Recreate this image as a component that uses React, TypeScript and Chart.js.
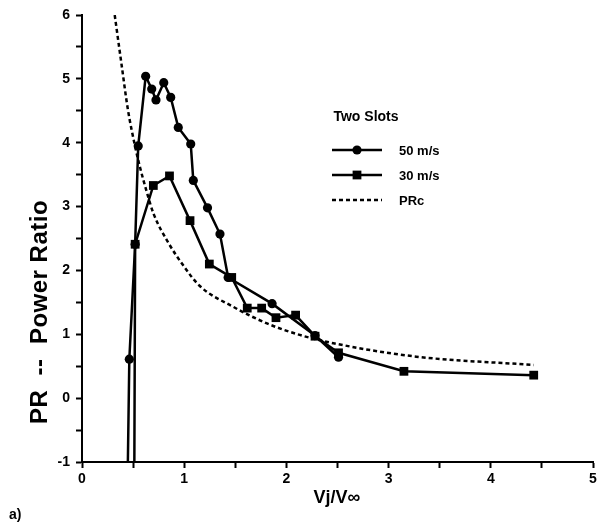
import React, { useEffect, useRef } from 'react';
import { Chart, registerables } from 'chart.js';

Chart.register(...registerables);

// ---- data ----
const s50X = [0.44, 0.463, 0.52, 0.55, 0.623, 0.682, 0.724, 0.8, 0.868, 0.942, 1.064, 1.089, 1.228, 1.35, 1.43, 1.86, 2.28, 2.51];
const s50Y = [-2.0, 0.61, 2.41, 3.95, 5.04, 4.84, 4.67, 4.94, 4.71, 4.24, 3.98, 3.41, 2.98, 2.57, 1.89, 1.48, 0.98, 0.64];

const s30X = [0.51, 0.52, 0.698, 0.856, 1.057, 1.246, 1.465, 1.617, 1.758, 1.898, 2.09, 2.28, 2.51, 3.15, 4.42];
const s30Y = [-2.0, 2.41, 3.33, 3.48, 2.78, 2.1, 1.89, 1.41, 1.41, 1.26, 1.3, 0.97, 0.71, 0.42, 0.36];

const prcX = [0.32, 0.39, 0.45, 0.52, 0.57, 0.63, 0.7, 0.85, 0.99, 1.15, 1.48, 1.81, 2.13, 2.46, 3.27, 4.42];
const prcY = [6.0, 5.19, 4.51, 3.94, 3.6, 3.25, 2.89, 2.42, 2.08, 1.76, 1.43, 1.17, 0.99, 0.86, 0.65, 0.52];

const seriesLabels = ['50 m/s', '30 m/s', 'PRc'];
const legendTitle = 'Two Slots';
const xTitle = 'Vj/V\u221E';
const yTitle = 'PR  --  Power Ratio';
const panelLabel = 'a)';
const xMin = 0, xMax = 5, yMin = -1, yMax = 6;

const FONT = '"Liberation Sans", Arial, Helvetica, sans-serif';

const toPts = (xs: number[], ys: number[]) => xs.map((x, i) => ({ x, y: ys[i] }));

const decorPlugin = {
  id: 'decor',
  afterDatasetsDraw(chart: any) {
    const ctx = chart.ctx as CanvasRenderingContext2D;
    ctx.save();
    ctx.fillStyle = '#000';
    ctx.strokeStyle = '#000';

    // y title
    ctx.save();
    ctx.translate(40, 312);
    ctx.rotate(-Math.PI / 2);
    ctx.font = `bold 24px ${FONT}`;
    (ctx as any).letterSpacing = '0.5px';
    ctx.textAlign = 'center';
    ctx.textBaseline = 'middle';
    ctx.fillText(yTitle, 0, 0);
    (ctx as any).letterSpacing = '0px';
    ctx.restore();

    // x title
    ctx.font = `bold 18px ${FONT}`;
    ctx.textAlign = 'center';
    ctx.textBaseline = 'middle';
    ctx.fillText(xTitle, 337, 498);

    // panel label
    ctx.font = `bold 14px ${FONT}`;
    ctx.textAlign = 'left';
    ctx.fillText(panelLabel, 9, 515);

    // legend
    ctx.font = `bold 14px ${FONT}`;
    ctx.textAlign = 'center';
    ctx.fillText(legendTitle, 366, 117);
    const x1 = 332, x2 = 382, xm = 357, tx = 399;
    chart.data.datasets.forEach((ds: any, i: number) => {
      const y = 150 + 25 * i;
      ctx.lineWidth = ds.borderWidth;
      ctx.setLineDash(ds.borderDash || []);
      ctx.beginPath();
      ctx.moveTo(x1, y);
      ctx.lineTo(x2, y);
      ctx.stroke();
      ctx.setLineDash([]);
      if (ds.pointRadius > 0) {
        if (ds.pointStyle === 'rect') {
          const s = ds.pointRadius * Math.SQRT1_2;
          ctx.fillRect(xm - s, y - s, 2 * s, 2 * s);
        } else {
          ctx.beginPath();
          ctx.arc(xm, y, ds.pointRadius, 0, Math.PI * 2);
          ctx.fill();
        }
      }
      ctx.font = `bold 13px ${FONT}`;
      ctx.textAlign = 'left';
      ctx.fillText(ds.label, tx, y + 1);
    });
    ctx.restore();
  },
};

export default function App() {
  const ref = useRef<HTMLCanvasElement | null>(null);
  useEffect(() => {
    if (!ref.current) return;
    const tickCb = (v: any) => (Number.isInteger(Number(v)) ? String(v) : '');
    const chart = new Chart(ref.current, {
      type: 'scatter',
      data: {
        datasets: [
          {
            label: seriesLabels[0],
            data: toPts(s50X, s50Y),
            showLine: true,
            borderColor: '#000',
            backgroundColor: '#000',
            borderWidth: 2.5,
            pointStyle: 'circle',
            pointRadius: 4.6,
            pointBorderWidth: 0,
            pointBackgroundColor: '#000',
            tension: 0,
          },
          {
            label: seriesLabels[1],
            data: toPts(s30X, s30Y),
            showLine: true,
            borderColor: '#000',
            backgroundColor: '#000',
            borderWidth: 2.5,
            pointStyle: 'rect',
            pointRadius: 6.2,
            pointBorderWidth: 0,
            pointBackgroundColor: '#000',
            tension: 0,
          },
          {
            label: seriesLabels[2],
            data: toPts(prcX, prcY),
            showLine: true,
            borderColor: '#000',
            borderWidth: 2.5,
            borderDash: [4, 3],
            pointRadius: 0,
            cubicInterpolationMode: 'monotone',
          },
        ] as any,
      },
      options: {
        animation: false,
        responsive: false,
        maintainAspectRatio: false,
        layout: { padding: { top: 15, right: 15, left: 0, bottom: 0 } },
        plugins: { legend: { display: false }, tooltip: { enabled: false } },
        scales: {
          x: {
            type: 'linear',
            min: xMin,
            max: xMax,
            afterFit: (s: any) => { s.height = 62; },
            border: { display: true, color: '#000', width: 2 },
            grid: { drawOnChartArea: false, drawTicks: true, tickColor: '#000', tickWidth: 2, tickLength: 6 },
            ticks: { stepSize: 0.5, autoSkip: false, maxRotation: 0, color: '#000', padding: 3, font: { family: FONT, size: 14, weight: 'bold' }, callback: tickCb },
          },
          y: {
            type: 'linear',
            min: yMin,
            max: yMax,
            afterFit: (s: any) => { s.width = 82; },
            border: { display: true, color: '#000', width: 2 },
            grid: { drawOnChartArea: false, drawTicks: true, tickColor: '#000', tickWidth: 2, tickLength: 6 },
            ticks: { stepSize: 0.5, autoSkip: false, color: '#000', padding: 6, font: { family: FONT, size: 14, weight: 'bold' }, callback: tickCb },
          },
        },
      } as any,
      plugins: [decorPlugin],
    });
    return () => chart.destroy();
  }, []);
  return (
    <div style={{ position: 'fixed', left: 0, top: 0, width: 608, height: 524, background: '#fff' }}>
      <canvas ref={ref} width={608} height={524} style={{ width: 608, height: 524, display: 'block' }} />
    </div>
  );
}
